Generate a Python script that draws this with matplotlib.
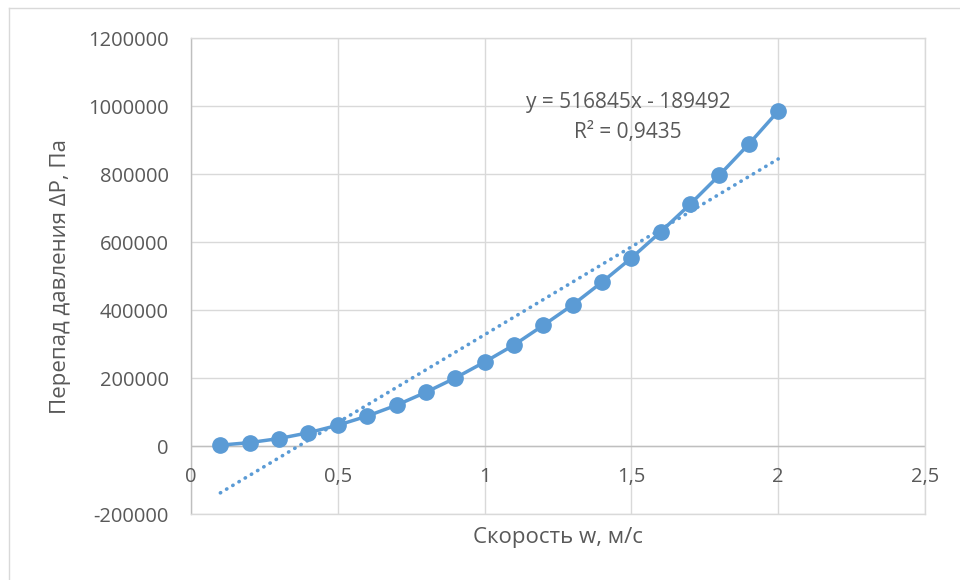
import matplotlib
matplotlib.use("Agg")
import matplotlib.pyplot as plt
from matplotlib.lines import Line2D
from matplotlib.ticker import FixedLocator, FuncFormatter

# Measured pressure drop vs flow velocity
velocity = [0.1, 0.2, 0.3, 0.4, 0.5, 0.6, 0.7, 0.8, 0.9, 1.0,
            1.1, 1.2, 1.3, 1.4, 1.5, 1.6, 1.7, 1.8, 1.9, 2.0]
pressure_drop = [2500, 10000, 22000, 39000, 61000, 88000, 120000, 158000, 200000, 247000,
                 297000, 355000, 415000, 482000, 553000, 630000, 711000, 797000, 888000, 985000]

# Linear trendline parameters
trend_slope = 516845
trend_intercept = -189492
trend_r2 = "0,9435"

x_ticks = [0, 0.5, 1, 1.5, 2, 2.5]
x_tick_labels = ["0", "0,5", "1", "1,5", "2", "2,5"]
y_ticks = [-200000, 0, 200000, 400000, 600000, 800000, 1000000, 1200000]

blue = "#5B9BD5"
text_gray = "#595959"
grid_gray = "#D9D9D9"
axis_gray = "#BFBFBF"

plt.rcParams["font.family"] = ["Open Sans", "DejaVu Sans"]

fig = plt.figure(figsize=(9.6, 5.8), dpi=100)
W, H = 960, 580
ax = fig.add_axes([191 / W, 1 - 514 / H, (925 - 191) / W, (514 - 38) / H])

ax.set_xlim(0, 2.5)
ax.set_ylim(-200000, 1200000)

ax.xaxis.set_major_locator(FixedLocator(x_ticks))
ax.yaxis.set_major_locator(FixedLocator(y_ticks))
ax.yaxis.set_major_formatter(FuncFormatter(lambda v, p: f"{int(v)}"))
ax.set_xticklabels([])
ax.grid(True, color=grid_gray, linewidth=1.0)
ax.set_axisbelow(True)
ax.tick_params(length=0, labelsize=14.5, labelcolor=text_gray, pad=16)

for side in ["top", "right", "bottom"]:
    ax.spines[side].set_color(grid_gray)
    ax.spines[side].set_linewidth(1.0)
ax.spines["left"].set_color(axis_gray)
ax.spines["left"].set_linewidth(1.0)

# horizontal axis line at zero with labels below it
ax.axhline(0, color=axis_gray, linewidth=1.0, zorder=1)
for xv, lab in zip(x_ticks, x_tick_labels):
    ax.text(xv, -91000, lab, ha="center", va="center", fontsize=14.5, color=text_gray)

# trendline
x_trend = [velocity[0], velocity[-1]]
y_trend = [trend_slope * x + trend_intercept for x in x_trend]
ax.plot(x_trend, y_trend, color=blue, linewidth=2.6, linestyle=(0, (0.1, 1.9)),
        dash_capstyle="round", solid_capstyle="round", zorder=3)

# data series
ax.plot(velocity, pressure_drop, color=blue, linewidth=2.5, marker="o",
        markersize=11, markerfacecolor=blue, markeredgecolor=blue, zorder=4)

ax.text(1.488, 966000, f"y = {trend_slope}x - {abs(trend_intercept)}\nR² = {trend_r2}",
        ha="center", va="center", fontsize=15, color=text_gray, linespacing=1.6)

ax.set_xlabel("Скорость w, м/с", fontsize=16, color=text_gray, va="center")
ax.set_ylabel("Перепад давления ΔP, Па", fontsize=16, color=text_gray, va="center")
ax.xaxis.set_label_coords(0.5, -(537 - 514) / 476)
ax.yaxis.set_label_coords(-(191 - 61) / 734, 0.5)

# outer chart border
fig.add_artist(Line2D([9 / W, 1.0], [1 - 8 / H, 1 - 8 / H], color=grid_gray, linewidth=1.0,
                      transform=fig.transFigure))
fig.add_artist(Line2D([9 / W, 9 / W], [0, 1 - 8 / H], color=grid_gray, linewidth=1.0,
                      transform=fig.transFigure))

fig.savefig("out.png", dpi=100, facecolor="white")
